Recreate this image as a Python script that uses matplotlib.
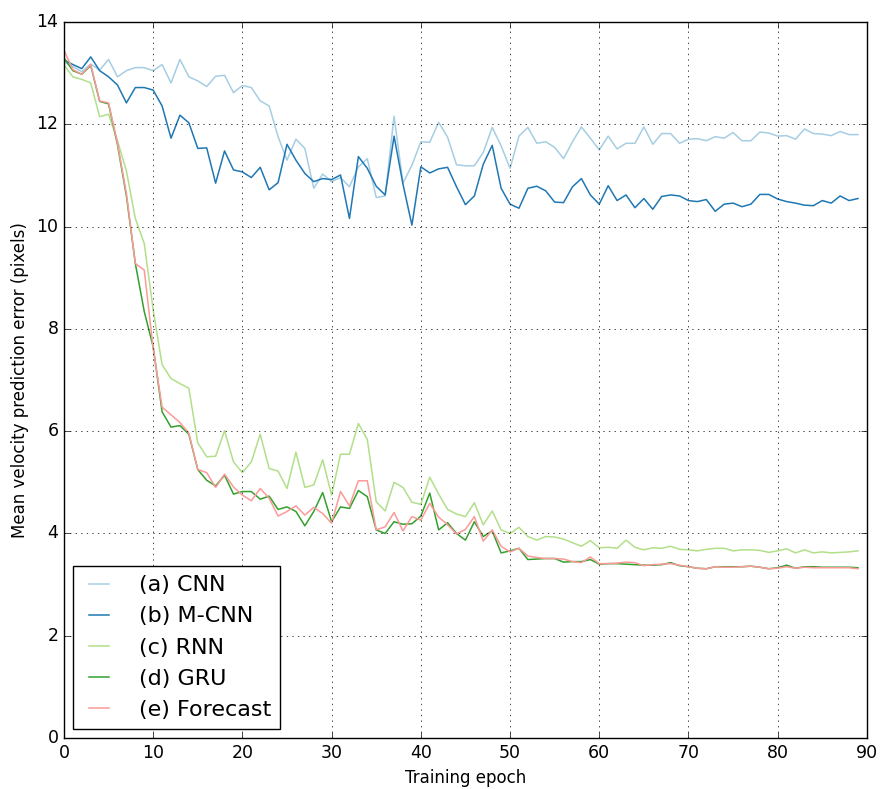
import matplotlib
matplotlib.use('Agg')
import matplotlib.pyplot as plt
import numpy as np


# 训练曲线数据 (epoch 0..89)
epochs = np.arange(90)

cnn = [13.22, 13.13, 13.03, 13.18, 13.06, 13.27, 12.93, 13.05, 13.11, 13.11,
       13.05, 13.17, 12.81, 13.27, 12.93, 12.85, 12.74, 12.94, 12.96, 12.62,
       12.76, 12.72, 12.46, 12.36, 11.76, 11.30, 11.71, 11.53, 10.75, 11.03,
       10.88, 10.96, 10.78, 11.17, 11.33, 10.57, 10.60, 12.16, 10.85, 11.20,
       11.66, 11.65, 12.04, 11.75, 11.21, 11.19, 11.19, 11.45, 11.94, 11.58,
       11.14, 11.77, 11.94, 11.63, 11.66, 11.55, 11.33, 11.66, 11.95, 11.73,
       11.50, 11.77, 11.52, 11.63, 11.63, 11.95, 11.61, 11.82, 11.82, 11.63,
       11.71, 11.72, 11.68, 11.76, 11.73, 11.84, 11.68, 11.68, 11.85, 11.83,
       11.77, 11.78, 11.71, 11.91, 11.82, 11.81, 11.78, 11.86, 11.80, 11.80]

m_cnn = [13.26, 13.17, 13.09, 13.32, 13.05, 12.93, 12.77, 12.42, 12.72, 12.72,
         12.67, 12.36, 11.73, 12.18, 12.03, 11.53, 11.54, 10.85, 11.48, 11.11,
         11.07, 10.96, 11.16, 10.72, 10.86, 11.61, 11.30, 11.04, 10.88, 10.94,
         10.92, 11.01, 10.16, 11.37, 11.14, 10.79, 10.62, 11.77, 10.83, 10.03,
         11.17, 11.05, 11.13, 11.16, 10.78, 10.43, 10.60, 11.22, 11.59, 10.75,
         10.44, 10.36, 10.75, 10.79, 10.70, 10.48, 10.47, 10.78, 10.94, 10.62,
         10.44, 10.80, 10.51, 10.62, 10.37, 10.55, 10.34, 10.59, 10.62, 10.60,
         10.51, 10.49, 10.53, 10.30, 10.44, 10.46, 10.39, 10.44, 10.63, 10.63,
         10.54, 10.49, 10.46, 10.42, 10.41, 10.51, 10.46, 10.60, 10.51, 10.55]

rnn = [13.16, 12.93, 12.88, 12.81, 12.15, 12.20, 11.68, 11.09, 10.16, 9.67,
       8.37, 7.30, 7.03, 6.93, 6.84, 5.77, 5.50, 5.51, 6.01, 5.40,
       5.19, 5.40, 5.94, 5.27, 5.22, 4.88, 5.59, 4.90, 4.95, 5.44,
       4.75, 5.55, 5.55, 6.15, 5.84, 4.62, 4.44, 5.00, 4.90, 4.61,
       4.57, 5.10, 4.77, 4.47, 4.38, 4.33, 4.60, 4.17, 4.44, 4.07,
       4.00, 4.12, 3.94, 3.87, 3.94, 3.93, 3.89, 3.82, 3.75, 3.86,
       3.72, 3.73, 3.71, 3.87, 3.73, 3.68, 3.72, 3.71, 3.75, 3.69,
       3.68, 3.66, 3.69, 3.71, 3.71, 3.66, 3.68, 3.68, 3.67, 3.63,
       3.66, 3.70, 3.62, 3.68, 3.62, 3.64, 3.62, 3.63, 3.64, 3.66]

gru = [13.30, 13.05, 12.98, 13.15, 12.45, 12.40, 11.60, 10.60, 9.28, 8.34,
       7.65, 6.38, 6.08, 6.11, 5.94, 5.25, 5.04, 4.93, 5.14, 4.77,
       4.82, 4.82, 4.67, 4.73, 4.47, 4.52, 4.43, 4.15, 4.43, 4.80,
       4.23, 4.52, 4.49, 4.84, 4.72, 4.07, 4.00, 4.23, 4.18, 4.19,
       4.34, 4.79, 4.07, 4.21, 4.00, 3.87, 4.23, 3.94, 4.05, 3.62,
       3.66, 3.71, 3.49, 3.50, 3.51, 3.51, 3.44, 3.45, 3.45, 3.49,
       3.40, 3.41, 3.41, 3.40, 3.39, 3.38, 3.38, 3.39, 3.43, 3.37,
       3.35, 3.32, 3.31, 3.35, 3.35, 3.35, 3.35, 3.36, 3.34, 3.31,
       3.33, 3.38, 3.32, 3.35, 3.35, 3.34, 3.34, 3.34, 3.34, 3.33]

forecast = [13.45, 13.07, 12.98, 13.17, 12.46, 12.42, 11.63, 10.65, 9.28, 9.15,
            7.62, 6.47, 6.32, 6.17, 5.96, 5.25, 5.19, 4.90, 5.16, 4.91,
            4.75, 4.64, 4.88, 4.69, 4.34, 4.43, 4.54, 4.36, 4.51, 4.39,
            4.20, 4.82, 4.54, 5.03, 5.03, 4.07, 4.13, 4.41, 4.05, 4.33,
            4.26, 4.59, 4.32, 4.17, 3.99, 4.08, 4.33, 3.85, 4.07, 3.75,
            3.64, 3.71, 3.56, 3.53, 3.51, 3.51, 3.50, 3.45, 3.43, 3.54,
            3.41, 3.41, 3.42, 3.44, 3.43, 3.37, 3.39, 3.40, 3.41, 3.38,
            3.35, 3.32, 3.31, 3.35, 3.34, 3.34, 3.35, 3.36, 3.34, 3.31,
            3.32, 3.35, 3.32, 3.34, 3.33, 3.33, 3.33, 3.33, 3.33, 3.31]

labels = ['(a) CNN', '(b) M-CNN', '(c) RNN', '(d) GRU', '(e) Forecast']
colors = ['#a6cee3', '#1f78b4', '#b2df8a', '#33a02c', '#fb9a99']


def make_plot():
    '''绘制各模型的训练误差曲线'''

    plt.style.use('classic')
    fig = plt.figure(figsize=(8.81, 7.89), dpi=100, facecolor='white')
    ax = fig.add_axes([0.0726, 0.0646, 0.9114, 0.9074])

    series = [cnn, m_cnn, rnn, gru, forecast]
    for data, label, color in zip(series, labels, colors):
        ax.plot(epochs, data, color=color, linewidth=1.1, label=label)

    ax.set_xlim(0, 90)
    ax.set_ylim(0, 14)
    ax.set_xticks(np.arange(0, 91, 10))
    ax.set_yticks(np.arange(0, 15, 2))
    ax.tick_params(labelsize=12.5)
    ax.grid(True)  # classic 样式: 黑色点线

    ax.set_xlabel('Training epoch', fontsize=12)
    ax.set_ylabel('Mean velocity prediction error (pixels)', fontsize=12)

    ax.legend(loc='lower left', fontsize=16, handlelength=1.5,
              handletextpad=1.05, borderaxespad=0.42)

    fig.savefig('out.png', dpi=100, facecolor='white')
    plt.close(fig)


def main():
    make_plot()


if __name__ == '__main__':
    main()
